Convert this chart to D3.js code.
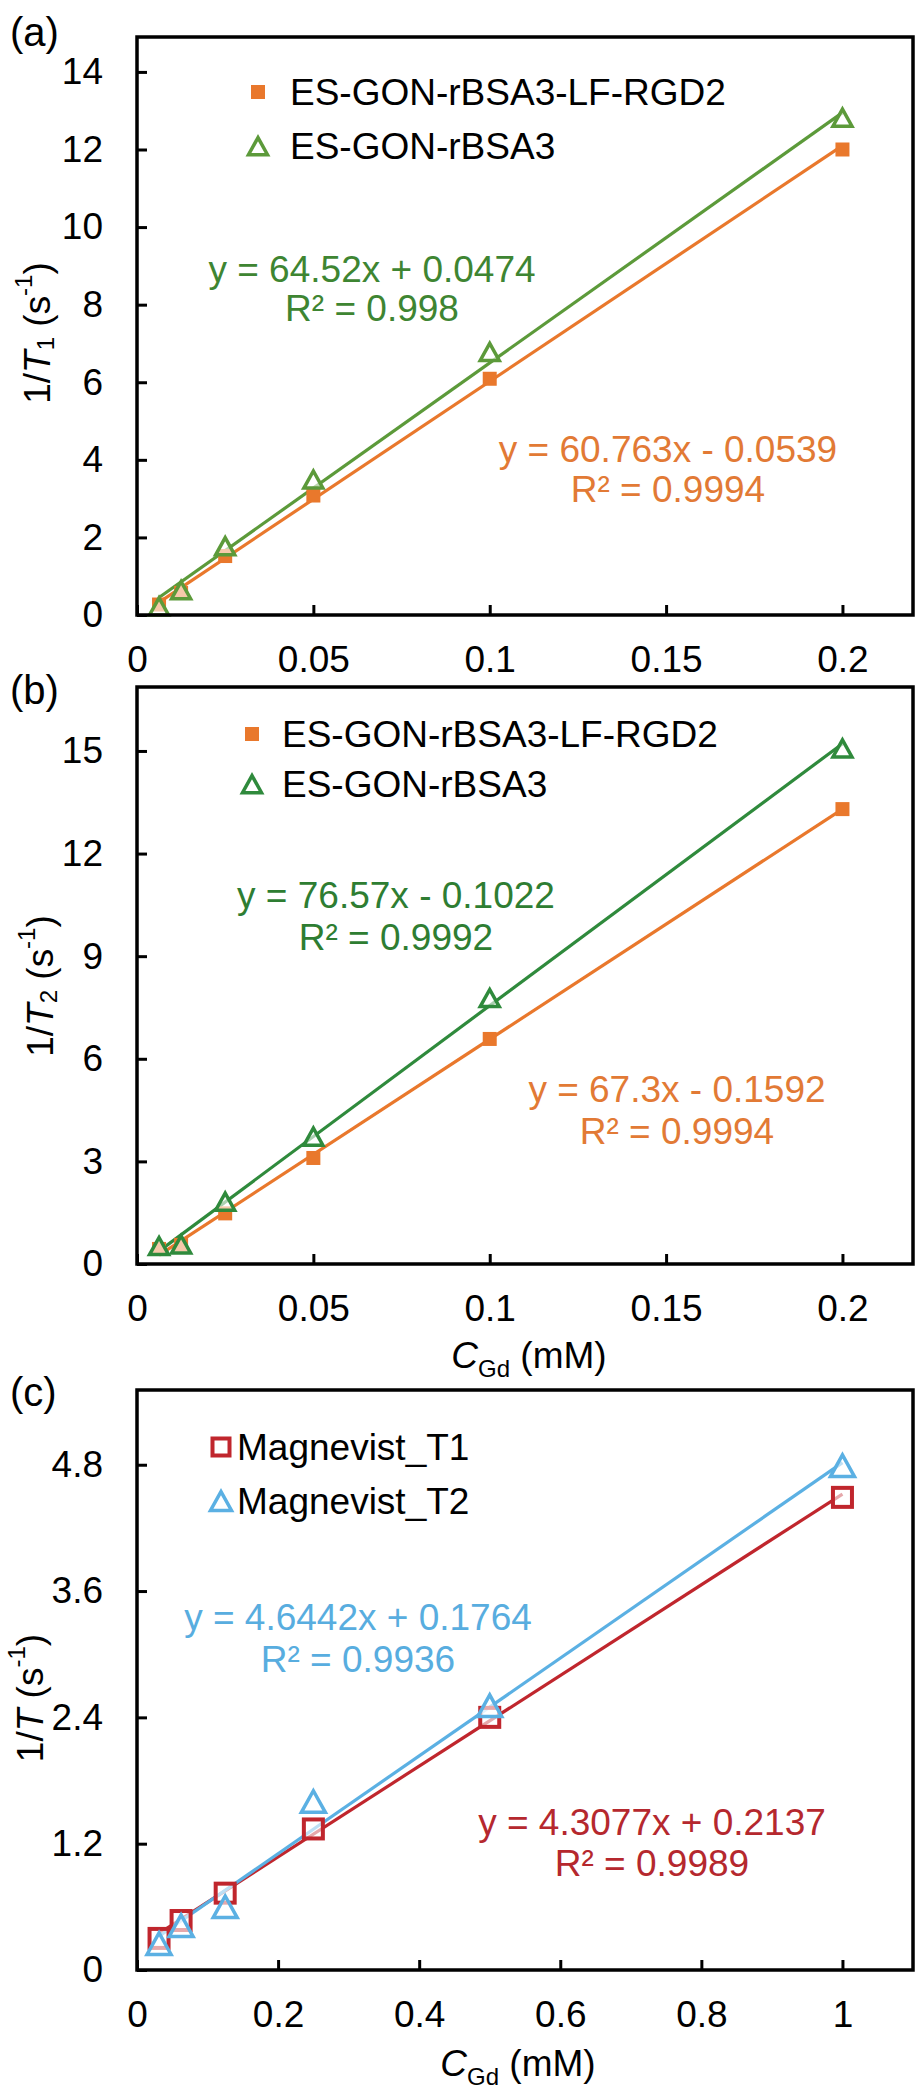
<!DOCTYPE html>
<html><head><meta charset="utf-8">
<script src="https://cdn.jsdelivr.net/npm/d3@7"></script>
<style>body{margin:0;background:#fff}svg{display:block}text{font-family:"Liberation Sans",Arial,sans-serif}</style>
</head><body><div id="chart"></div>
<script>
// ---------- data ----------
const xConcA = [0.00625, 0.0125, 0.025, 0.05, 0.1, 0.2];
const aRGD = [0.27, 0.57, 1.52, 3.08, 6.09, 12.0];
const aBSA = [0.2, 0.62, 1.75, 3.47, 6.76, 12.8];
const aFit = {rgd: [60.763, -0.0539], bsa: [64.52, 0.0474]};

const xConcB = [0.00625, 0.0125, 0.025, 0.05, 0.1, 0.2];
const bRGD = [0.44, 0.56, 1.48, 3.1, 6.58, 13.3];
const bBSA = [0.5, 0.55, 1.8, 3.7, 7.75, 15.05];
const bFit = {rgd: [67.3, -0.1592], bsa: [76.57, -0.1022]};

const xConcC = [0.03125, 0.0625, 0.125, 0.25, 0.5, 1.0];
const cT1 = [0.3, 0.47, 0.73, 1.34, 2.4, 4.49];
const cT2 = [0.24, 0.41, 0.59, 1.59, 2.5, 4.78];
const cFit = {t1: [4.3077, 0.2137], t2: [4.6442, 0.1764]};

const ticksXab = [0, 0.05, 0.1, 0.15, 0.2];
const ticksYa = [0, 2, 4, 6, 8, 10, 12, 14];
const ticksYb = [0, 3, 6, 9, 12, 15];
const ticksXc = [0, 0.2, 0.4, 0.6, 0.8, 1];
const ticksYc = [0, 1.2, 2.4, 3.6, 4.8];

const legendAB = ["ES-GON-rBSA3-LF-RGD2", "ES-GON-rBSA3"];
const legendC = ["Magnevist_T1", "Magnevist_T2"];

// ---------- drawing ----------
const W = 919, H = 2100, FS = 37;
const svg = d3.select("#chart").append("svg").attr("width", W).attr("height", H);

const ORANGE = "#E9782C", ORANGE_T = "#E27A35";
const GREEN_A = "#5C9A3A", GREEN_AT = "#3E8532";
const GREEN_B = "#2F8A3C", GREEN_BT = "#2E7D32";
const RED = "#C0262D", RED_T = "#B5282E";
const BLUE = "#5BB0E3", BLUE_T = "#58ADDF";

function fmt(v){ return String(+v.toFixed(3)); }

function panel(cfg){
  const g = svg.append("g");
  const x = d3.scaleLinear().domain(cfg.xDom).range([cfg.left, cfg.right]);
  const y = d3.scaleLinear().domain(cfg.yDom).range([cfg.bottom, cfg.top]);

  // axes
  const ax = g.append("g").attr("transform", `translate(0,${cfg.bottom})`)
    .call(d3.axisBottom(x).tickValues(cfg.xTicks).tickFormat(fmt).tickSize(-10).tickPadding(31));
  const ay = g.append("g").attr("transform", `translate(${cfg.left},0)`)
    .call(d3.axisLeft(y).tickValues(cfg.yTicks).tickFormat(fmt).tickSize(-10).tickPadding(34));
  [ax, ay].forEach(a => {
    a.select(".domain").remove();
    a.selectAll(".tick line").attr("stroke", "#000").attr("stroke-width", 3);
    a.selectAll(".tick text").attr("font-size", FS).attr("fill", "#000")
      .attr("font-family", "'Liberation Sans',Arial,sans-serif");
  });

  // series: trend lines then markers
  cfg.series.forEach(s => {
    const x0 = cfg.xs[0], x1 = cfg.xs[cfg.xs.length - 1];
    g.append("line")
      .attr("x1", x(x0)).attr("y1", y(s.fit[0] * x0 + s.fit[1]))
      .attr("x2", x(x1)).attr("y2", y(s.fit[0] * x1 + s.fit[1]))
      .attr("stroke", s.color).attr("stroke-width", 3.2);
  });
  cfg.series.forEach(s => {
    cfg.xs.forEach((xv, i) => drawMarker(g, s, x(xv), y(s.vals[i])));
  });

  // frame
  g.append("rect").attr("x", cfg.left).attr("y", cfg.top)
    .attr("width", cfg.right - cfg.left).attr("height", cfg.bottom - cfg.top)
    .attr("fill", "none").attr("stroke", "#000").attr("stroke-width", 3.5);

  // legend
  cfg.series.forEach((s, i) => {
    const L = cfg.legend;
    drawMarker(g, Object.assign({}, s, {size: s.lsize || s.size}), L.mx, L.my[i]);
    g.append("text").attr("x", L.tx).attr("y", L.ty[i]).attr("font-size", FS)
      .attr("fill", "#000").text(s.name);
  });

  // equations
  cfg.series.forEach(s => {
    const e = s.eq;
    g.append("text").attr("x", e.x).attr("y", e.y1).attr("text-anchor", "middle")
      .attr("font-size", FS).attr("fill", s.tcolor).text(e.l1);
    g.append("text").attr("x", e.x).attr("y", e.y2).attr("text-anchor", "middle")
      .attr("font-size", FS).attr("fill", s.tcolor).text(e.l2);
  });

  // y title
  const yt = g.append("text").attr("transform", `translate(${cfg.ytx},${cfg.yty}) rotate(-90)`)
    .attr("text-anchor", "middle").attr("dominant-baseline", "central")
    .attr("font-size", FS).attr("fill", "#000");
  yt.append("tspan").text("1/");
  yt.append("tspan").attr("font-style", "italic").text("T");
  if (cfg.ysub) yt.append("tspan").attr("font-size", 24).attr("dy", 8).text(cfg.ysub);
  yt.append("tspan").attr("dy", cfg.ysub ? -8 : 0).text(" (s");
  yt.append("tspan").attr("font-size", 24).attr("dy", -14).text("-1");
  yt.append("tspan").attr("dy", 14).text(")");

  // x title
  if (cfg.xtitle) {
    const xt = g.append("text").attr("x", cfg.xtx).attr("y", cfg.xty)
      .attr("text-anchor", "middle").attr("font-size", FS).attr("fill", "#000");
    xt.append("tspan").attr("font-style", "italic").text("C");
    xt.append("tspan").attr("font-size", 24).attr("dy", 9).text("Gd");
    xt.append("tspan").attr("dy", -9).text(" (mM)");
  }

  // panel label
  g.append("text").attr("x", 10).attr("y", cfg.labY).attr("font-size", 40)
    .attr("fill", "#000").text(cfg.label);
}

function drawMarker(g, s, cx, cy){
  const sz = s.size;
  if (s.shape === "square") {
    g.append("rect").attr("x", cx - sz / 2).attr("y", cy - sz / 2)
      .attr("width", sz).attr("height", sz)
      .attr("fill", s.filled ? s.color : "#fff").attr("fill-opacity", s.filled ? 1 : 0.6)
      .attr("stroke", s.color).attr("stroke-width", s.filled ? 0 : 4);
  } else {
    const h = sz * 0.9;
    g.append("path")
      .attr("d", `M${cx},${cy - h * 0.55} L${cx + sz / 2},${cy + h * 0.45} L${cx - sz / 2},${cy + h * 0.45} Z`)
      .attr("fill", "#fff").attr("fill-opacity", 0.6)
      .attr("stroke", s.color).attr("stroke-width", s.sw || 3.5).attr("stroke-linejoin", "miter");
  }
}

panel({
  label: "(a)", labY: 46,
  left: 137, right: 913, top: 37, bottom: 615,
  xDom: [0, 0.22], yDom: [0, 14.9], xTicks: ticksXab, yTicks: ticksYa, xs: xConcA,
  ytx: 37, yty: 333, ysub: "1",
  legend: {mx: 258, my: [92, 147], tx: 290, ty: [105, 159]},
  series: [
    {name: legendAB[0], vals: aRGD, fit: aFit.rgd, color: ORANGE, tcolor: ORANGE_T, shape: "square", filled: true, size: 14,
     eq: {x: 668, y1: 462, y2: 502, l1: "y = 60.763x - 0.0539", l2: "R² = 0.9994"}},
    {name: legendAB[1], vals: aBSA, fit: aFit.bsa, color: GREEN_A, tcolor: GREEN_AT, shape: "tri", size: 19,
     eq: {x: 372, y1: 282, y2: 321, l1: "y = 64.52x + 0.0474", l2: "R² = 0.998"}}
  ]
});

panel({
  label: "(b)", labY: 704,
  left: 137, right: 913, top: 687, bottom: 1264,
  xDom: [0, 0.22], yDom: [0, 16.87], xTicks: ticksXab, yTicks: ticksYb, xs: xConcB,
  ytx: 40, yty: 986, ysub: "2",
  xtitle: true, xtx: 529, xty: 1368,
  legend: {mx: 252, my: [734, 785], tx: 282, ty: [747, 797]},
  series: [
    {name: legendAB[0], vals: bRGD, fit: bFit.rgd, color: ORANGE, tcolor: ORANGE_T, shape: "square", filled: true, size: 14,
     eq: {x: 677, y1: 1102, y2: 1144, l1: "y = 67.3x - 0.1592", l2: "R² = 0.9994"}},
    {name: legendAB[1], vals: bBSA, fit: bFit.bsa, color: GREEN_B, tcolor: GREEN_BT, shape: "tri", size: 19,
     eq: {x: 396, y1: 908, y2: 950, l1: "y = 76.57x - 0.1022", l2: "R² = 0.9992"}}
  ]
});

panel({
  label: "(c)", labY: 1406,
  left: 137, right: 913, top: 1390, bottom: 1970,
  xDom: [0, 1.1], yDom: [0, 5.51], xTicks: ticksXc, yTicks: ticksYc, xs: xConcC,
  ytx: 30, yty: 1698, ysub: null,
  xtitle: true, xtx: 518, xty: 2076,
  legend: {mx: 221, my: [1447, 1502], tx: 237, ty: [1460, 1514]},
  series: [
    {name: legendC[0], vals: cT1, fit: cFit.t1, color: RED, tcolor: RED_T, shape: "square", filled: false, size: 19, lsize: 17,
     eq: {x: 652, y1: 1835, y2: 1876, l1: "y = 4.3077x + 0.2137", l2: "R² = 0.9989"}},
    {name: legendC[1], vals: cT2, fit: cFit.t2, color: BLUE, tcolor: BLUE_T, shape: "tri", size: 24, lsize: 21, sw: 3.5,
     eq: {x: 358, y1: 1630, y2: 1672, l1: "y = 4.6442x + 0.1764", l2: "R² = 0.9936"}}
  ]
});
</script></body></html>
